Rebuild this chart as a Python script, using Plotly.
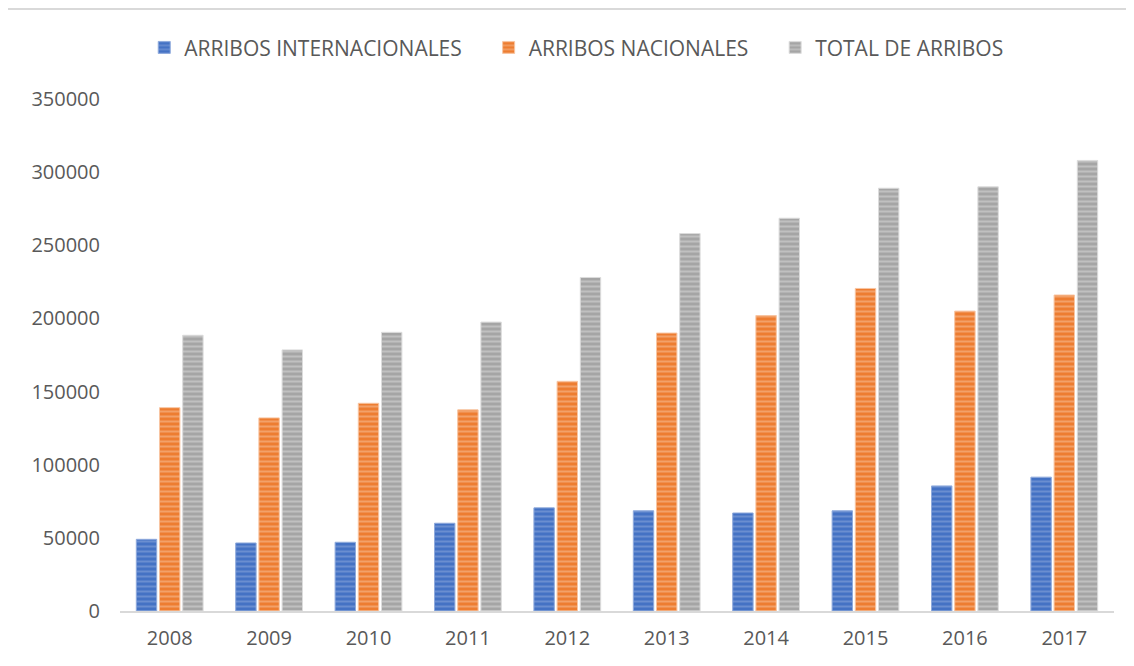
import plotly.graph_objects as go

years = ["2008", "2009", "2010", "2011", "2012", "2013", "2014", "2015", "2016", "2017"]
internacionales = [49000, 46500, 47000, 60000, 70500, 68500, 67000, 68500, 85500, 91500]
nacionales = [139000, 132000, 142000, 137500, 157000, 190000, 202000, 220500, 205000, 216000]
total = [188500, 178500, 190500, 197500, 228000, 258000, 268500, 289000, 290000, 308000]
names = ["ARRIBOS INTERNACIONALES", "ARRIBOS NACIONALES", "TOTAL DE ARRIBOS"]

series = [
    (names[0], internacionales, "#4472C4", "#8FAADC"),
    (names[1], nacionales, "#ED7D31", "#F8C5A2"),
    (names[2], total, "#A5A5A5", "#DCDCDC"),
]

fig = go.Figure()
for i, (name, vals, base, light) in enumerate(series):
    label = name + ("\u00a0" * 4 if i < 2 else "")
    fig.add_trace(go.Bar(
        x=years, y=vals, name=label,
        marker=dict(
            color=base,
            line=dict(color=light, width=1),
            pattern=dict(shape="-", fgcolor=light, bgcolor=base, size=5, solidity=0.4),
        ),
    ))

font_family = "Open Sans, Liberation Sans, sans-serif"
fsize = 20
fig.update_layout(
    width=1126, height=658,
    margin=dict(l=112, r=20, t=91, b=55),
    paper_bgcolor="white", plot_bgcolor="white",
    barmode="group", bargap=0.3, bargroupgap=0.12,
    font=dict(family=font_family, size=fsize, color="#595959"),
    legend=dict(orientation="h", x=0.459, xanchor="center", y=1.1, yanchor="middle",
                font=dict(size=21, color="#595959"), traceorder="normal",
                itemwidth=30),
    xaxis=dict(showline=True, linecolor="#D9D9D9", linewidth=2, ticks="",
               showgrid=False, tickfont=dict(size=fsize, color="#595959"),
               ticklabelstandoff=8),
    yaxis=dict(range=[0, 350000], dtick=50000, showgrid=False, zeroline=False,
               showline=False, ticks="", tickformat="d",
               tickfont=dict(size=fsize, color="#595959"), ticklabelstandoff=19),
    shapes=[dict(type="rect", xref="paper", yref="paper",
                 x0=-0.1177, x1=1.3, y0=-0.3, y1=1.1758,
                 line=dict(color="#D9D9D9", width=2), fillcolor="rgba(0,0,0,0)",
                 layer="below")],
)

fig.write_html("out.html")
